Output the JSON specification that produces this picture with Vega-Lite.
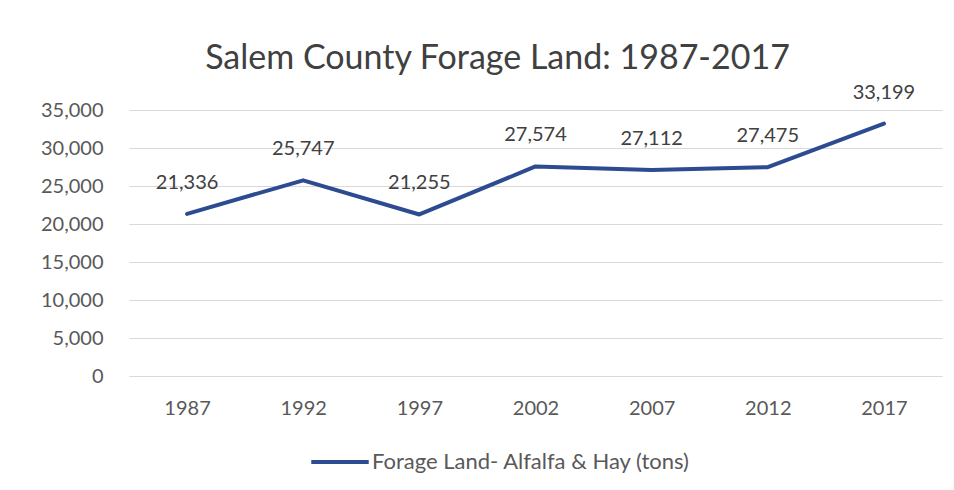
{
  "$schema": "https://vega.github.io/schema/vega-lite/v6.json",
  "width": 813,
  "height": 266,
  "autosize": {"type": "none"},
  "padding": {"left": 129, "top": 110, "right": 12, "bottom": 114},
  "background": "white",
  "config": {
    "view": {"stroke": null},
    "font": "Lato",
    "axis": {"labelFont": "Lato", "labelColor": "#595959", "labelFontSize": 20, "title": null}
  },
  "title": {
    "text": "Salem County Forage Land: 1987-2017",
    "font": "Lato",
    "fontSize": 34,
    "fontWeight": "normal",
    "color": "#404040",
    "anchor": "middle",
    "frame": "group",
    "dx": -38,
    "offset": 7
  },
  "data": {
    "values": [
      {"year": "1987", "tons": 21336, "series": "Forage Land- Alfalfa & Hay (tons)"},
      {"year": "1992", "tons": 25747, "series": "Forage Land- Alfalfa & Hay (tons)"},
      {"year": "1997", "tons": 21255, "series": "Forage Land- Alfalfa & Hay (tons)"},
      {"year": "2002", "tons": 27574, "series": "Forage Land- Alfalfa & Hay (tons)"},
      {"year": "2007", "tons": 27112, "series": "Forage Land- Alfalfa & Hay (tons)"},
      {"year": "2012", "tons": 27475, "series": "Forage Land- Alfalfa & Hay (tons)"},
      {"year": "2017", "tons": 33199, "series": "Forage Land- Alfalfa & Hay (tons)"}
    ]
  },
  "encoding": {
    "x": {
      "field": "year",
      "type": "ordinal",
      "scale": {"paddingInner": 0, "paddingOuter": 0},
      "axis": {"labelAngle": 0, "ticks": false, "domain": true, "domainColor": "#d9d9d9", "labelPadding": 22, "grid": false}
    },
    "y": {
      "field": "tons",
      "type": "quantitative",
      "scale": {"domain": [0, 35000], "nice": false},
      "axis": {"values": [0, 5000, 10000, 15000, 20000, 25000, 30000, 35000], "format": ",.0f", "domain": false, "ticks": false, "labelPadding": 26, "gridColor": "#d9d9d9", "gridWidth": 1}
    }
  },
  "layer": [
    {
      "mark": {"type": "line", "strokeWidth": 4, "strokeCap": "round", "strokeJoin": "round"},
      "encoding": {
        "color": {
          "field": "series",
          "type": "nominal",
          "scale": {"range": ["#2C4B91"]},
          "legend": {
            "title": null,
            "orient": "none",
            "legendX": 180,
            "legendY": 321,
            "symbolType": "stroke",
            "symbolSize": 3300,
            "symbolStrokeWidth": 4,
            "labelFont": "Lato",
            "labelFontSize": 22,
            "labelColor": "#595959",
            "labelOffset": 1,
            "labelLimit": 500
          }
        }
      }
    },
    {
      "mark": {"type": "text", "dy": -31, "font": "Lato", "fontSize": 20, "color": "#404040"},
      "encoding": {"text": {"field": "tons", "type": "quantitative", "format": ",.0f"}}
    }
  ]
}
